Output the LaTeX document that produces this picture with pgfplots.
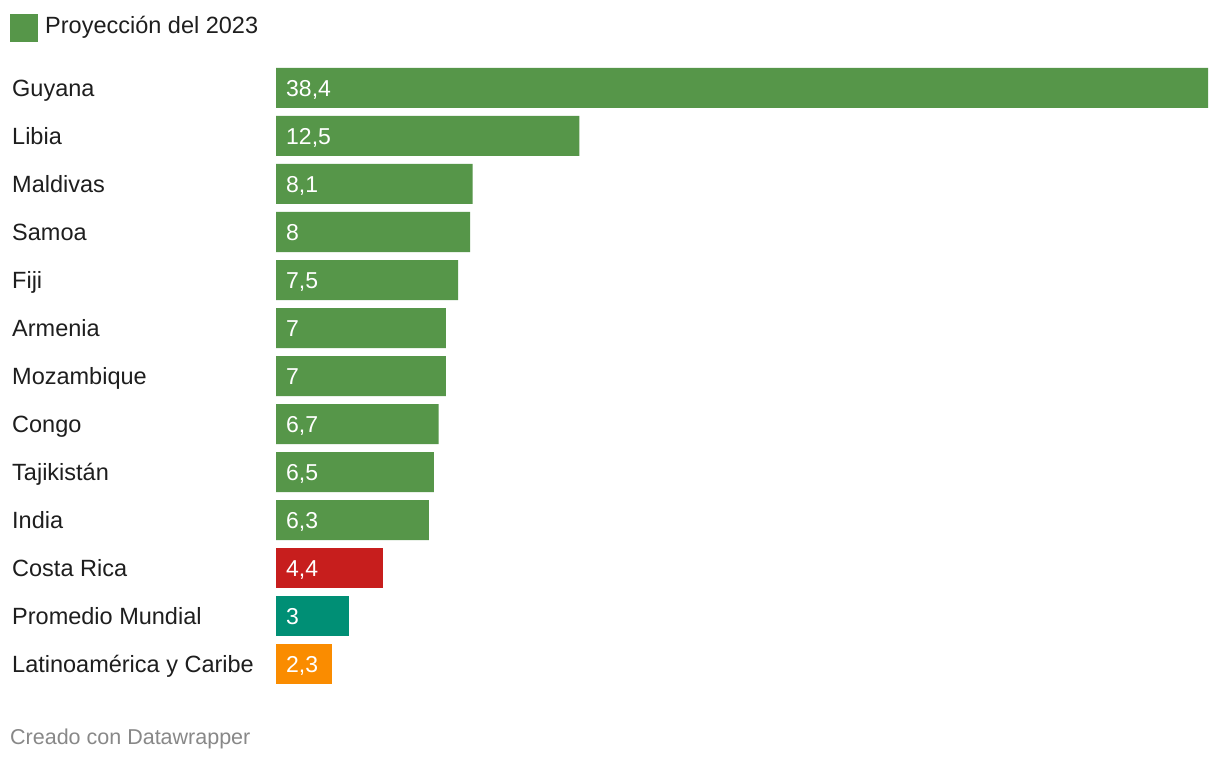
\documentclass[border=0pt]{standalone}
\usepackage{pgfplots}
\pgfplotsset{compat=1.18}
\usepackage{pgfplotstable}
\usepackage{fontspec}
\setmainfont{Liberation Sans}
\definecolor{dwgreen}{RGB}{86,150,73}
\definecolor{dwred}{RGB}{199,30,29}
\definecolor{dwteal}{RGB}{0,143,117}
\definecolor{dworange}{RGB}{250,140,0}
\definecolor{txt}{RGB}{30,30,30}
\definecolor{foot}{RGB}{136,136,136}

\pgfplotstableread{
y x lab
0 38.4 {38,4}
1 12.5 {12,5}
2 8.1 {8,1}
3 8 {8}
4 7.5 {7,5}
5 7 {7}
6 7 {7}
7 6.7 {6,7}
8 6.5 {6,5}
9 6.3 {6,3}
10 4.4 {4,4}
11 3 {3}
12 2.3 {2,3}
}\alldata

\pgfplotstableread{
y x
0 38.4
1 12.5
2 8.1
3 8
4 7.5
5 7
6 7
7 6.7
8 6.5
9 6.3
}\greendata

\begin{document}
\begin{tikzpicture}[x=1pt,y=1pt]
\path[use as bounding box, fill=white] (0,0) rectangle (1220,762);
% legend
\fill[dwgreen] (10,720) rectangle (38,748);
\node[anchor=base west, inner sep=0pt, text=txt, font=\fontsize{23.5}{28}\selectfont] at (45,728) {Proyección del 2023};
% footer
\node[anchor=base west, inner sep=0pt, text=foot, font=\fontsize{21.5}{26}\selectfont] at (10,17) {Creado con Datawrapper};
\begin{axis}[
  at={(276pt,74pt)}, anchor=south west,
  scale only axis, width=932pt, height=624pt,
  xmin=0, xmax=38.4, ymin=-0.5, ymax=12.5,
  y dir=reverse,
  xbar, bar width=40pt, bar shift=0pt,
  axis line style={draw=none},
  major tick length=0pt,
  xtick=\empty,
  ytick={0,...,12},
  yticklabels={Guyana,Libia,Maldivas,Samoa,Fiji,Armenia,Mozambique,Congo,Tajikistán,India,Costa Rica,Promedio Mundial,Latinoamérica y Caribe},
  yticklabel style={anchor=base west, inner sep=0pt, xshift=-264pt, yshift=-8.3pt, text=txt, font=\fontsize{23.5}{28}\selectfont},
  clip=false,
]
\addplot[fill=dwgreen, draw=none] table[x=x, y=y] {\greendata};
\addplot[fill=dwred, draw=none] coordinates {(4.4,10)};
\addplot[fill=dwteal, draw=none] coordinates {(3,11)};
\addplot[fill=dworange, draw=none] coordinates {(2.3,12)};
\addplot[draw=none, mark=none, xbar=0pt, bar width=0pt, fill=none,
  nodes near coords, point meta=explicit symbolic,
  nodes near coords style={anchor=base west, inner sep=0pt, xshift=10pt, yshift=-8.3pt, text=white, font=\fontsize{23}{28}\selectfont}]
  table[x expr=0, y=y, meta=lab] {\alldata};
\end{axis}
\end{tikzpicture}
\end{document}
